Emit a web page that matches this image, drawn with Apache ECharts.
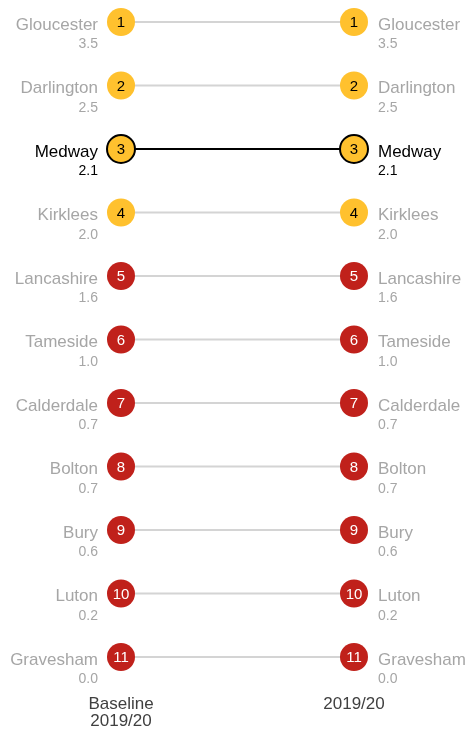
<!DOCTYPE html>
<html>
<head>
<meta charset="utf-8">
<script src="https://cdn.jsdelivr.net/npm/echarts@6/dist/echarts.min.js"></script>
<style>
  html, body { margin: 0; padding: 0; background: #fff; }
  #chart { width: 466px; height: 730px; }
</style>
</head>
<body>
<div id="chart"></div>
<script>
  // periods on the x axis
  var periods = ['Baseline\n2019/20', '2019/20'];
  // areas, in rank order
  var areas = ['Gloucester', 'Darlington', 'Medway', 'Kirklees', 'Lancashire', 'Tameside',
               'Calderdale', 'Bolton', 'Bury', 'Luton', 'Gravesham'];
  var baselineRank = [1, 2, 3, 4, 5, 6, 7, 8, 9, 10, 11];
  var currentRank  = [1, 2, 3, 4, 5, 6, 7, 8, 9, 10, 11];
  var baselineValue = ['3.5', '2.5', '2.1', '2.0', '1.6', '1.0', '0.7', '0.7', '0.6', '0.2', '0.0'];
  var currentValue  = ['3.5', '2.5', '2.1', '2.0', '1.6', '1.0', '0.7', '0.7', '0.6', '0.2', '0.0'];
  var band = ['high', 'high', 'high', 'high', 'low', 'low', 'low', 'low', 'low', 'low', 'low'];
  var focus = 'Medway';

  var YELLOW = '#FFC12E', RED = '#C0211B';

  var series = areas.map(function (name, i) {
    var isFocus = name === focus;
    var fill = band[i] === 'high' ? YELLOW : RED;
    return {
      type: 'line',
      name: name,
      data: [[0, areas[baselineRank[i] - 1]], [1, areas[currentRank[i] - 1]]],
      symbol: 'circle',
      symbolSize: 28,
      z: isFocus ? 5 : 2,
      lineStyle: { color: isFocus ? '#000' : '#D4D4D4', width: 2 },
      itemStyle: {
        color: fill,
        borderColor: isFocus ? '#000' : fill,
        borderWidth: isFocus ? 2 : 0
      },
      label: {
        show: true,
        position: 'inside',
        offset: [0, 1],
        fontFamily: 'Liberation Sans',
        fontSize: 15,
        color: band[i] === 'high' ? '#000' : '#fff',
        formatter: function (p) { return p.dataIndex === 0 ? baselineRank[i] : currentRank[i]; }
      },
      emphasis: { disabled: true },
      animation: false
    };
  });

  function sideLabel(values) {
    return function (name) {
      var i = areas.indexOf(name);
      var style = name === focus ? 'f' : 'n';
      return '{' + style + '|' + name + '}\n{' + style + 'v|' + values[i] + '}';
    };
  }
  function richStyles(align) {
    return {
      n:  { fontFamily: 'Liberation Sans', fontSize: 17, color: '#A6A6A6', lineHeight: 19, align: align },
      nv: { fontFamily: 'Liberation Sans', fontSize: 14, color: '#A6A6A6', lineHeight: 20, align: align },
      f:  { fontFamily: 'Liberation Sans', fontSize: 17, color: '#000', lineHeight: 19, align: align },
      fv: { fontFamily: 'Liberation Sans', fontSize: 14, color: '#000', lineHeight: 20, align: align }
    };
  }

  var yBase = {
    type: 'category',
    data: areas,
    inverse: true,
    boundaryGap: false,
    axisLine: { show: false },
    axisTick: { show: false },
    splitLine: { show: false }
  };

  var option = {
    backgroundColor: '#fff',
    animation: false,
    grid: { left: 121, right: 112, top: 22, bottom: 73, outerBoundsMode: 'none', containLabel: false },
    xAxis: {
      type: 'category',
      data: periods,
      boundaryGap: false,
      axisLine: { show: false },
      axisTick: { show: false },
      splitLine: { show: false },
      axisLabel: {
        margin: 39,
        fontFamily: 'Liberation Sans',
        fontSize: 17,
        lineHeight: 17,
        color: '#404040'
      }
    },
    yAxis: [
      Object.assign({}, yBase, {
        position: 'left',
        axisLabel: {
          margin: 23,
          padding: [26, 0, 0, 0],
          formatter: sideLabel(baselineValue),
          rich: richStyles('right')
        }
      }),
      Object.assign({}, yBase, {
        position: 'right',
        axisLabel: {
          margin: 24,
          padding: [26, 0, 0, 0],
          formatter: sideLabel(currentValue),
          rich: richStyles('left')
        }
      })
    ],
    series: series
  };

  var chart = echarts.init(document.getElementById('chart'));
  chart.setOption(option);
</script>
</body>
</html>
